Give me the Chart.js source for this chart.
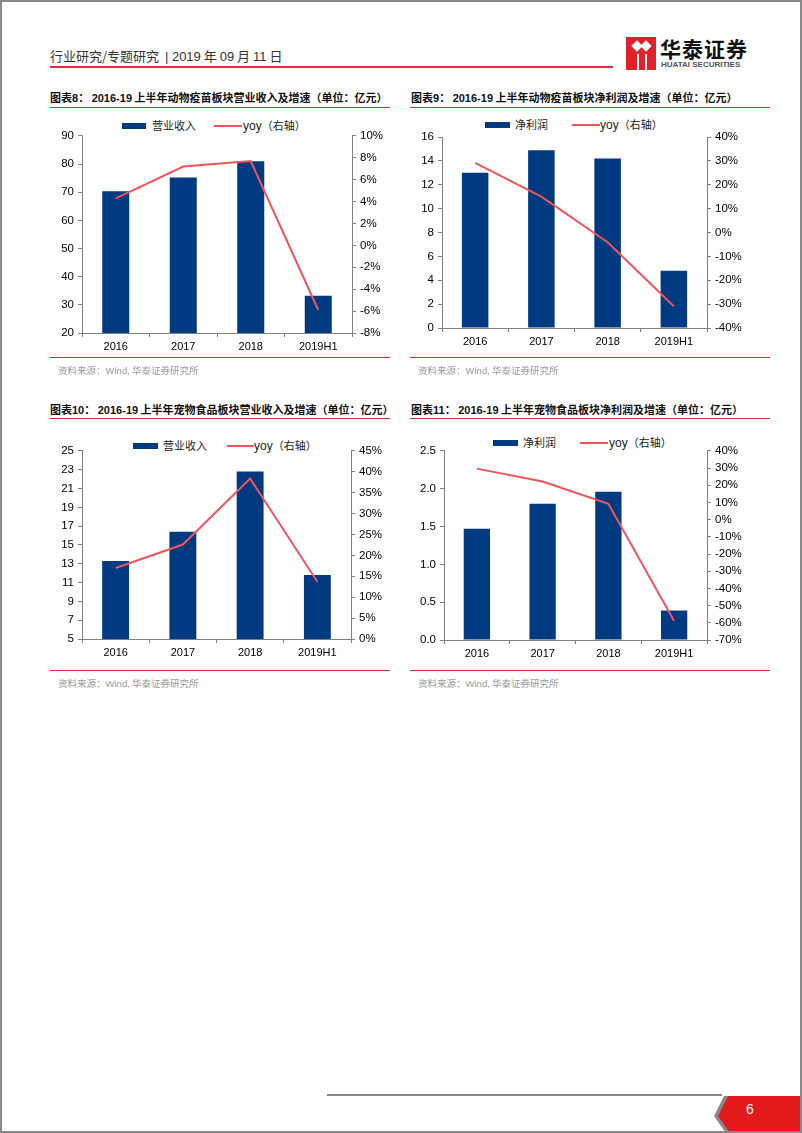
<!DOCTYPE html>
<html>
<head>
<meta charset="utf-8">
<script src="https://cdn.jsdelivr.net/npm/chart.js@4.4.0/dist/chart.umd.min.js"></script>
<style>
  html, body { margin: 0; padding: 0; background: #fff; }
  #page { position: relative; width: 802px; height: 1133px; overflow: hidden; font-family: "Noto Sans CJK SC", sans-serif; }
  #frame { position: absolute; left: 0; top: 0; width: 802px; height: 1133px; box-sizing: border-box; border: 2px solid #888; pointer-events: none; }
  .abs { position: absolute; white-space: nowrap; }
  .hdr { left: 50px; top: 46px; font-size: 13px; color: #333; }
  .hdr .num { font-family: "Liberation Sans", Arial, sans-serif; }
  .redline { position: absolute; height: 1px; background: #e0313a; }
  .title { font-size: 11px; font-weight: bold; color: #111; }
  .title .num { font-family: "Liberation Sans", Arial, sans-serif; }
  .src { font-size: 9.5px; color: #9a9a9a; }
  .src .num { font-family: "Liberation Sans", Arial, sans-serif; }
  .sw-bar { position: absolute; height: 6px; background: #003a80; }
  .sw-line { position: absolute; height: 2px; background: #f2545b; }
  .lg { font-size: 11px; color: #222; }
  .lg .num { font-family: "Liberation Sans", Arial, sans-serif; font-size: 12px; }
  canvas { position: absolute; }
</style>
</head>
<body>
<div id="page">
  <div class="abs hdr">行业研究/专题研究 &nbsp;<span class="num">| 2019</span> 年 <span class="num">09</span> 月 <span class="num">11</span> 日</div>
  <div class="redline" style="left:50px; top:66px; width:563px; height:2px;"></div>

  <!-- logo -->
  <div class="abs" style="left:626px; top:37px; width:30px; height:33px; background:#e0202a;"></div>
  <div class="abs" style="left:633px; top:42px; width:8px; height:8px; background:#fff; transform:rotate(45deg);"></div>
  <div class="abs" style="left:642px; top:42px; width:8px; height:8px; background:#fff; transform:rotate(45deg);"></div>
  <div class="abs" style="left:637px; top:54px; width:2px; height:16px; background:#fff;"></div>
  <div class="abs" style="left:645px; top:54px; width:2px; height:16px; background:#fff;"></div>
  <div class="abs" style="left:660px; top:33px; font-size:21px; font-weight:bold; color:#111; letter-spacing:1px;">华泰证券</div>
  <div class="abs" style="left:661px; top:60px; font-size:8px; font-weight:bold; color:#555; font-family:'Liberation Sans', Arial, sans-serif;">HUATAI SECURITIES</div>

  <!-- titles -->
  <div class="abs title" style="left:50px; top:89px;">图表<span class="num">8</span>： <span class="num">2016-19</span> 上半年动物疫苗板块营业收入及增速（单位：亿元）</div>
  <div class="redline" style="left:50px; top:107px; width:340px;"></div>
  <div class="abs title" style="left:411px; top:89px;">图表<span class="num">9</span>： <span class="num">2016-19</span> 上半年动物疫苗板块净利润及增速（单位：亿元）</div>
  <div class="redline" style="left:410px; top:107px; width:360px;"></div>

  <div class="abs title" style="left:50px; top:401px;">图表<span class="num">10</span>： <span class="num">2016-19</span> 上半年宠物食品板块营业收入及增速（单位：亿元）</div>
  <div class="redline" style="left:50px; top:418px; width:340px;"></div>
  <div class="abs title" style="left:411px; top:401px;">图表<span class="num">11</span>： <span class="num">2016-19</span> 上半年宠物食品板块净利润及增速（单位：亿元）</div>
  <div class="redline" style="left:410px; top:418px; width:360px;"></div>

  <!-- legends -->
  <div class="sw-bar" style="left:122px; top:123px; width:24px;"></div>
  <div class="abs lg" style="left:152px; top:117px;">营业收入</div>
  <div class="sw-line" style="left:214px; top:125px; width:28px;"></div>
  <div class="abs lg" style="left:243px; top:117px;"><span class="num">yoy</span>（右轴）</div>

  <div class="sw-bar" style="left:485px; top:122px; width:25px;"></div>
  <div class="abs lg" style="left:515px; top:116px;">净利润</div>
  <div class="sw-line" style="left:572px; top:124px; width:28px;"></div>
  <div class="abs lg" style="left:600px; top:116px;"><span class="num">yoy</span>（右轴）</div>

  <div class="sw-bar" style="left:133px; top:443px; width:25px;"></div>
  <div class="abs lg" style="left:163px; top:437px;">营业收入</div>
  <div class="sw-line" style="left:227px; top:445px; width:27px;"></div>
  <div class="abs lg" style="left:254px; top:437px;"><span class="num">yoy</span>（右轴）</div>

  <div class="sw-bar" style="left:493px; top:440px; width:25px;"></div>
  <div class="abs lg" style="left:523px; top:434px;">净利润</div>
  <div class="sw-line" style="left:580px; top:442px; width:28px;"></div>
  <div class="abs lg" style="left:609px; top:434px;"><span class="num">yoy</span>（右轴）</div>

  <canvas id="c1" width="350" height="235" style="left:40px; top:125px;"></canvas>
  <canvas id="c2" width="350" height="230" style="left:400px; top:125px;"></canvas>
  <canvas id="c3" width="350" height="226" style="left:40px; top:440px;"></canvas>
  <canvas id="c4" width="350" height="227" style="left:400px; top:440px;"></canvas>

  <!-- sources -->
  <div class="redline" style="left:50px; top:357px; width:340px;"></div>
  <div class="abs src" style="left:58px; top:363px;">资料来源：<span class="num">Wind,</span> 华泰证券研究所</div>
  <div class="redline" style="left:410px; top:357px; width:360px;"></div>
  <div class="abs src" style="left:418px; top:363px;">资料来源：<span class="num">Wind,</span> 华泰证券研究所</div>
  <div class="redline" style="left:50px; top:670px; width:340px;"></div>
  <div class="abs src" style="left:58px; top:676px;">资料来源：<span class="num">Wind,</span> 华泰证券研究所</div>
  <div class="redline" style="left:410px; top:670px; width:360px;"></div>
  <div class="abs src" style="left:418px; top:676px;">资料来源：<span class="num">Wind,</span> 华泰证券研究所</div>

  <!-- footer -->
  <div class="abs" style="left:327px; top:1094px; width:395px; height:2px; background:#888;"></div>
  <div class="abs" style="left:714px; top:1096px; width:90px; height:40px; background:#888; clip-path:polygon(10px 0, 100% 0, 100% 100%, 14px 100%, 0 50%);"></div>
  <div class="abs" style="left:718px; top:1096px; width:90px; height:40px; background:#e31a1c; clip-path:polygon(10px 0, 100% 0, 100% 100%, 14px 100%, 0 50%);"></div>
  <div class="abs" style="left:746px; top:1101px; font-size:14px; color:#fff; font-family:'Liberation Sans', Arial, sans-serif;">6</div>
  <div id="frame"></div>
</div>

<script>
// Categories
const categories = ['2016', '2017', '2018', '2019H1'];

// 图表8 动物疫苗 营业收入
const vaccineRevenue = [70.3, 75.2, 81.0, 33.2];
const vaccineRevenueYoy = [4.3, 7.2, 7.7, -5.9];

// 图表9 动物疫苗 净利润
const vaccineProfit = [13.0, 14.9, 14.2, 4.8];
const vaccineProfitYoy = [29.2, 15.0, -4.1, -30.9];

// 图表10 宠物食品 营业收入
const petRevenue = [13.3, 16.4, 22.8, 11.8];
const petRevenueYoy = [17.0, 22.6, 38.4, 13.7];

// 图表11 宠物食品 净利润
const petProfit = [1.47, 1.80, 1.96, 0.39];
const petProfitYoy = [29.7, 22.2, 9.2, -58.9];

Chart.defaults.font.family = '"Liberation Sans", Arial, sans-serif';
Chart.defaults.font.size = 11;
Chart.defaults.color = '#000';

const AXIS = '#808080';

function createChart(id, bars, yoy, left, right, box) {
  new Chart(document.getElementById(id), {
    data: {
      labels: categories,
      datasets: [
        {
          type: 'line', data: yoy, yAxisID: 'yR', order: 0,
          borderColor: '#f2545b', borderWidth: 2, pointRadius: 0, tension: 0
        },
        {
          type: 'bar', data: bars, yAxisID: 'yL', order: 1,
          backgroundColor: '#003a80', categoryPercentage: 1, barPercentage: 0.4
        }
      ]
    },
    options: {
      responsive: false,
      animation: false,
      layout: { padding: { top: box.top, left: 0, right: 0, bottom: 0 } },
      plugins: { legend: { display: false }, tooltip: { enabled: false } },
      scales: {
        x: {
          grid: { drawOnChartArea: false, offset: true, tickLength: 4, color: AXIS },
          border: { color: AXIS },
          ticks: { padding: 3, font: { size: 11 } },
          afterFit: s => { s.height = box.bottom; }
        },
        yL: {
          position: 'left', min: left.min, max: left.max,
          grid: { drawOnChartArea: false, tickLength: 4, color: AXIS },
          border: { color: AXIS },
          ticks: {
            stepSize: left.step, padding: 4, font: { size: 11.5 },
            callback: v => left.dec ? v.toFixed(left.dec) : v
          },
          afterFit: s => { s.width = box.left; }
        },
        yR: {
          position: 'right', min: right.min, max: right.max,
          grid: { drawOnChartArea: false, tickLength: 4, color: AXIS },
          border: { color: AXIS },
          ticks: { stepSize: right.step, padding: 4, font: { size: 11.5 }, callback: v => v + '%' },
          afterFit: s => { s.width = box.right; }
        }
      }
    }
  });
}

createChart('c1', vaccineRevenue, vaccineRevenueYoy,
  { min: 20, max: 90, step: 10 }, { min: -8, max: 10, step: 2 },
  { top: 7, bottom: 27, left: 42, right: 38 });
createChart('c2', vaccineProfit, vaccineProfitYoy,
  { min: 0, max: 16, step: 2 }, { min: -40, max: 40, step: 10 },
  { top: 12, bottom: 27, left: 42, right: 43 });
createChart('c3', petRevenue, petRevenueYoy,
  { min: 5, max: 25, step: 2 }, { min: 0, max: 45, step: 5 },
  { top: 7, bottom: 27, left: 42, right: 39 });
createChart('c4', petProfit, petProfitYoy,
  { min: 0, max: 2.5, step: 0.5, dec: 1 }, { min: -70, max: 40, step: 10 },
  { top: 7, bottom: 27, left: 44, right: 43 });
</script>
</body>
</html>
